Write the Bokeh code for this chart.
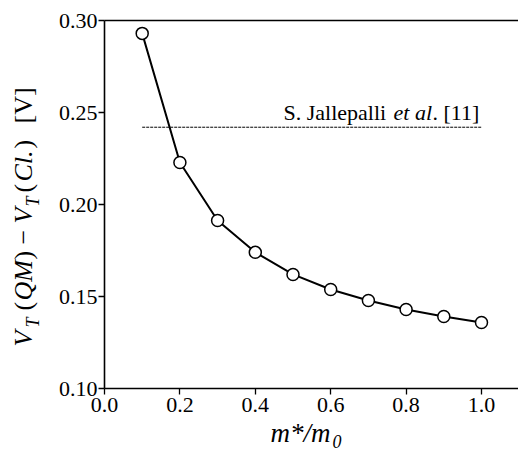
import math
from bokeh.plotting import figure
from bokeh.models import Range1d, FixedTicker, PrintfTickFormatter, Label, LinearAxis
from bokeh.embed import file_html
from bokeh.resources import INLINE

# ---- data ----
mass_ratio = [0.1, 0.2, 0.3, 0.4, 0.5, 0.6, 0.7, 0.8, 0.9, 1.0]
delta_vt = [0.293, 0.2228, 0.1913, 0.174, 0.162, 0.1538, 0.1478, 0.1429, 0.1391, 0.1359]
ref_x = [0.1, 1.0]
ref_y = [0.242, 0.242]
x_ticks = [0.0, 0.2, 0.4, 0.6, 0.8, 1.0]
y_ticks = [0.10, 0.15, 0.20, 0.25, 0.30]

FONT = "Liberation Serif"

# ---- layout (canvas pixels) ----
W, H = 518, 453
FL, FT, FB = 104, 20, 388          # plot box left / top / bottom in canvas px
PX_PER_X = 377.0                   # pixels per unit of m*/m0
XA0, XA1 = 0.0, (W - FL) / PX_PER_X
YA0, YA1 = 0.10, 0.30
PX_PER_Y = (FB - FT) / (YA1 - YA0)
BASE_SHIFT = 0.4                   # empirical baseline correction (em)


def dx(px):
    return (px - FL) / PX_PER_X


def dy(py):
    return YA1 - (py - FT) / PX_PER_Y


p = figure(width=W, height=H, output_backend="svg", toolbar_location=None,
           x_range=Range1d(dx(0), dx(W)), y_range=Range1d(dy(H), dy(0)),
           x_axis_type=None, y_axis_type=None,
           min_border=0, min_border_left=0, min_border_right=0,
           min_border_top=0, min_border_bottom=0)
p.outline_line_color = None
p.background_fill_color = "white"
p.border_fill_color = "white"


def style(ax):
    ax.axis_line_color = "black"
    ax.axis_line_width = 1.6
    ax.major_tick_line_color = "black"
    ax.major_tick_line_width = 1.3
    ax.major_tick_in = 0
    ax.major_tick_out = 6
    ax.minor_tick_line_color = None
    ax.major_label_text_font = FONT
    ax.major_label_text_font_size = "22px"
    ax.major_label_text_color = "black"


xax = LinearAxis(ticker=FixedTicker(ticks=x_ticks), formatter=PrintfTickFormatter(format="%.1f"),
                 fixed_location=YA0, bounds=(XA0, XA1))
style(xax)
xax.major_label_standoff = 3
p.add_layout(xax, "below")

yax = LinearAxis(ticker=FixedTicker(ticks=y_ticks), formatter=PrintfTickFormatter(format="%.2f"),
                 fixed_location=XA0, bounds=(YA0, YA1))
style(yax)
yax.major_label_standoff = 1
p.add_layout(yax, "left")

top = LinearAxis(ticker=FixedTicker(ticks=[]), fixed_location=YA1, bounds=(XA0, XA1))
top.axis_line_color = "black"
top.axis_line_width = 1.6
top.major_tick_line_color = None
top.minor_tick_line_color = None
top.major_label_text_font_size = "0px"
p.add_layout(top, "above")

# reference dashed line
p.line(ref_x, ref_y, line_color="black", line_width=1, line_dash="3 1")

# main curve
p.line(mass_ratio, delta_vt, line_color="black", line_width=2)
p.scatter(mass_ratio, delta_vt, marker="circle", size=12, fill_color="white",
          line_color="black", line_width=1.5)


def lab(txt, px, py, size, italic=False, rotated=False):
    if rotated:
        px = px - BASE_SHIFT * size
    else:
        py = py - BASE_SHIFT * size
    p.add_layout(Label(x=dx(px), y=dy(py), text=txt, text_font=FONT,
                       text_font_size=f"{size}px",
                       text_font_style="italic" if italic else "normal",
                       text_color="black", angle=math.pi / 2 if rotated else 0.0,
                       text_align="left", text_baseline="alphabetic"))


# reference annotation text
lab("S. Jallepalli ", 283, 121, 22)
lab("et al", 393, 121, 22, italic=True)
lab(". [11]", 432, 121, 22)

# y-axis label, composed of pieces (rotated), (text, italic, size, start y, baseline x)
ypieces = [
    ("V", True, 26, 346, 33),
    ("T", True, 18, 327, 40),
    ("(", False, 26, 310, 33),
    ("QM", True, 26, 300, 33),
    (")", False, 26, 259, 33),
    ("\u2212", False, 26, 244, 33),
    ("V", True, 26, 223, 33),
    ("T", True, 18, 206, 40),
    ("(", False, 26, 192, 33),
    ("Cl.", True, 26, 181, 33),
    (")", False, 26, 148, 33),
    ("[V]", False, 26, 123, 33),
]
for t, it, s, py, px in ypieces:
    lab(t, px, py, s, italic=it, rotated=True)

# x-axis label
lab("m*/m", 270, 443, 27, italic=True)
lab("0", 332, 448, 18, italic=True)

open("out.html", "w").write(file_html(p, INLINE))
